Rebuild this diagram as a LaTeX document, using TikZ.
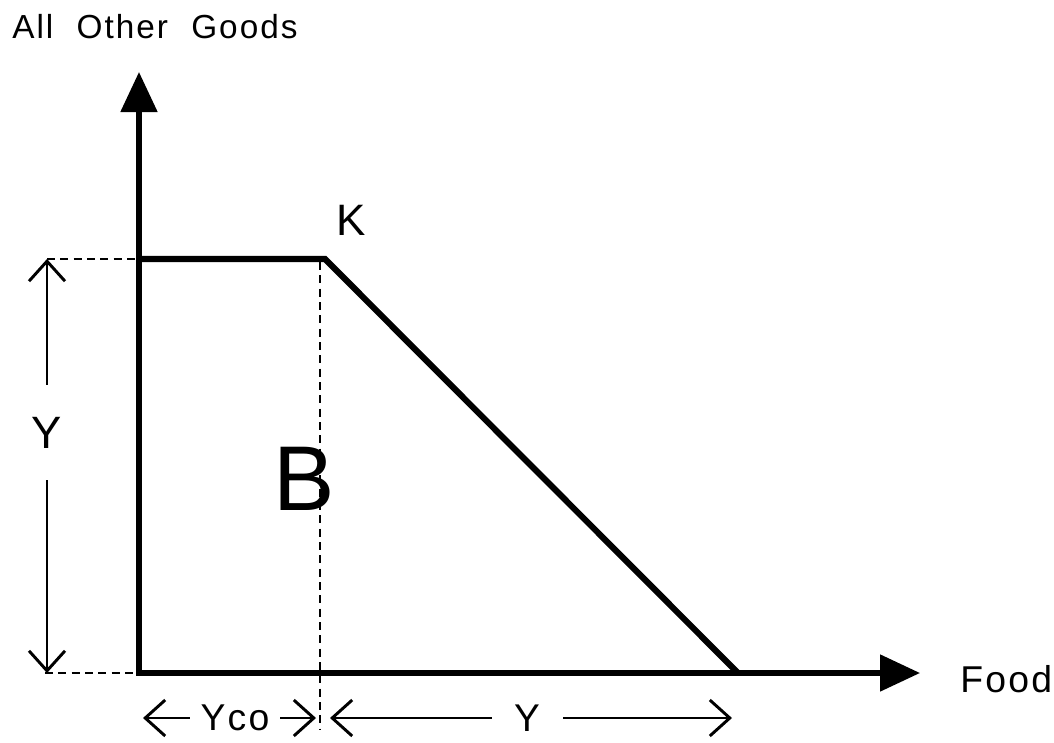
\documentclass[tikz,border=0pt]{standalone}
\usepackage{fontspec}
\setmainfont{Liberation Sans}[LetterSpace=6]
\usetikzlibrary{arrows.meta}

\begin{document}
\begin{tikzpicture}[x=0.75pt, y=-0.75pt,
  axis/.style={line width=3.8pt, {Triangle[length=30pt,width=27pt]}-{Triangle[length=30pt,width=27pt]}},
  budget/.style={line width=4.6pt, line join=miter},
  guide/.style={line width=1.7pt, dash pattern=on 6pt off 4pt},
  span/.style={line width=2.2pt, -{Straight Barb[length=15pt,width=27pt]}},
  lbl/.style={inner sep=0pt, font=\fontsize{#1}{#1}\selectfont}]
  \useasboundingbox (0,0) rectangle (1054,743);

  % key points
  \coordinate (O) at (139,673);
  \coordinate (ytip) at (139,72);
  \coordinate (xtip) at (920,673);
  \coordinate (Yk) at (139,259);
  \coordinate (K) at (325,259);
  \coordinate (E) at (738,673);

  % axes
  \draw[axis] (ytip) -- (O) -- (xtip);
  \node[lbl=25pt, anchor=base west] (aog) at (12,38) {All\hspace{0.7em}Other\hspace{0.7em}Goods};
  \node[lbl=28pt, anchor=base west] (food) at (960,692) {Food};

  % budget constraint with kink
  \draw[budget] (Yk) -- (K) -- (E);
  \node[lbl=33pt, anchor=base west] (klab) at (336,235) {K};
  \node[lbl=69pt, anchor=base west] (blab) at (273,510) {B};

  % dashed guides
  \coordinate (gtop) at (47,259);
  \coordinate (gbot) at (45,673);
  \coordinate (vbot) at (320,730);
  \draw[guide] (gtop) -- (Yk);
  \draw[guide] (gbot) -- (O);
  \draw[guide] (320,262) -- (vbot);

  % Y on the left
  \node[lbl=34pt, minimum height=71.25pt] (yleft) at (47,432.5) {Y};
  \draw[span] (yleft.north) -- (gtop);
  \draw[span] (yleft.south) -- (47,673);

  % Yco and Y along the food axis
  \node[lbl=28pt, minimum width=67.5pt] (yco) at (235,718) {Yco};
  \draw[span] (yco.west) -- (143,718);
  \draw[span] (yco.east) -- (316,718);
  \node[lbl=29pt, minimum width=53.25pt] (ybot) at (527.5,718) {Y};
  \draw[span] (ybot.west) -- (330,718);
  \draw[span] (ybot.east) -- (732,718);
\end{tikzpicture}
\end{document}
